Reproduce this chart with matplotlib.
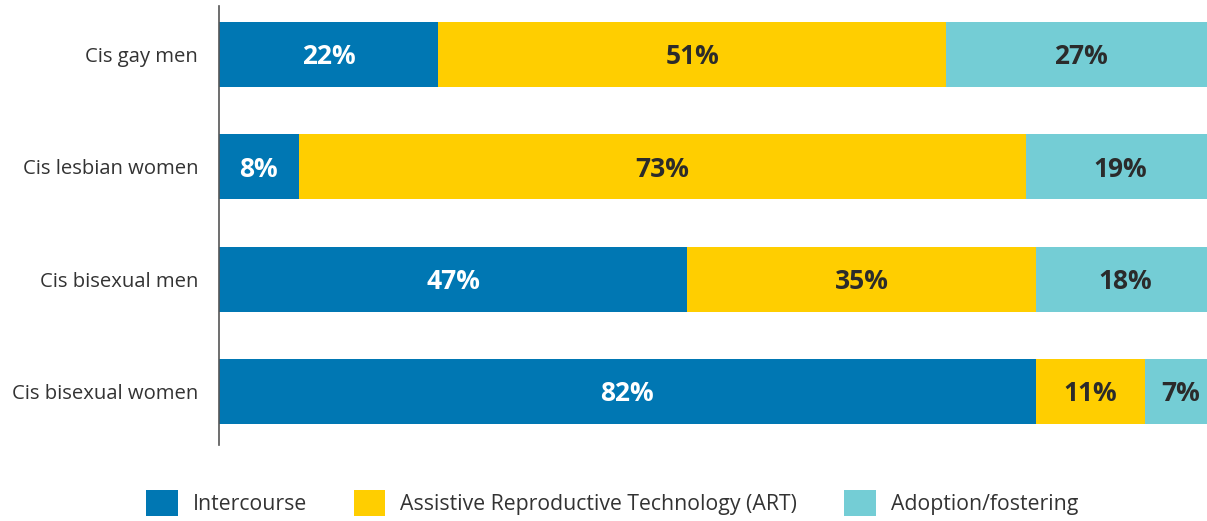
import numpy as np
import matplotlib.pyplot as plt
from matplotlib.patches import Patch

plt.rcParams['font.family'] = ['Open Sans', 'DejaVu Sans']

# Data
groups = ["Cis gay men", "Cis lesbian women", "Cis bisexual men", "Cis bisexual women"]
intercourse = [22, 8, 47, 82]
art = [51, 73, 35, 11]
adoption = [27, 19, 18, 7]
series_names = ["Intercourse", "Assistive Reproductive Technology (ART)", "Adoption/fostering"]

colors = ["#0077B3", "#FFCE00", "#74CDD5"]
text_colors = ["white", "#2b2b2b", "#2b2b2b"]

fig = plt.figure(figsize=(12.07, 5.21), dpi=100)
ax = fig.add_axes([219 / 1207, 76 / 521, 996 / 1207, 439 / 521])

y = np.arange(len(groups))
left = np.zeros(len(groups))
for vals, col, tcol in zip([intercourse, art, adoption], colors, text_colors):
    vals = np.array(vals, dtype=float)
    ax.barh(y, vals, left=left, height=0.58, color=col, linewidth=0)
    for yi, l, v in zip(y, left, vals):
        # small downward nudge so the digits sit centred like the original
        ax.text(l + v / 2, yi + 0.02, f"{int(v)}%", ha="center", va="center",
                color=tcol, fontsize=19, fontweight="bold")
    left += vals

ax.set_xlim(0, 100)
ax.set_ylim(3.476, -0.432)
ax.set_yticks(y)
ax.set_yticklabels(groups, fontsize=14.6, color="#333333")
ax.tick_params(axis="y", length=0, pad=15)
ax.set_xticks([])
for s in ["top", "right", "bottom"]:
    ax.spines[s].set_visible(False)
ax.spines["left"].set_color("#555555")
ax.spines["left"].set_linewidth(1.2)

handles = [Patch(facecolor=c, edgecolor="none") for c in colors]
fig.legend(handles, series_names, loc="center", bbox_to_anchor=(0.507, 0.035),
           ncol=3, frameon=False, fontsize=15.3, handlelength=1.5, handleheight=1.5,
           handletextpad=0.7, columnspacing=2.2, labelcolor="#333333")

fig.savefig("out.png", dpi=100)
